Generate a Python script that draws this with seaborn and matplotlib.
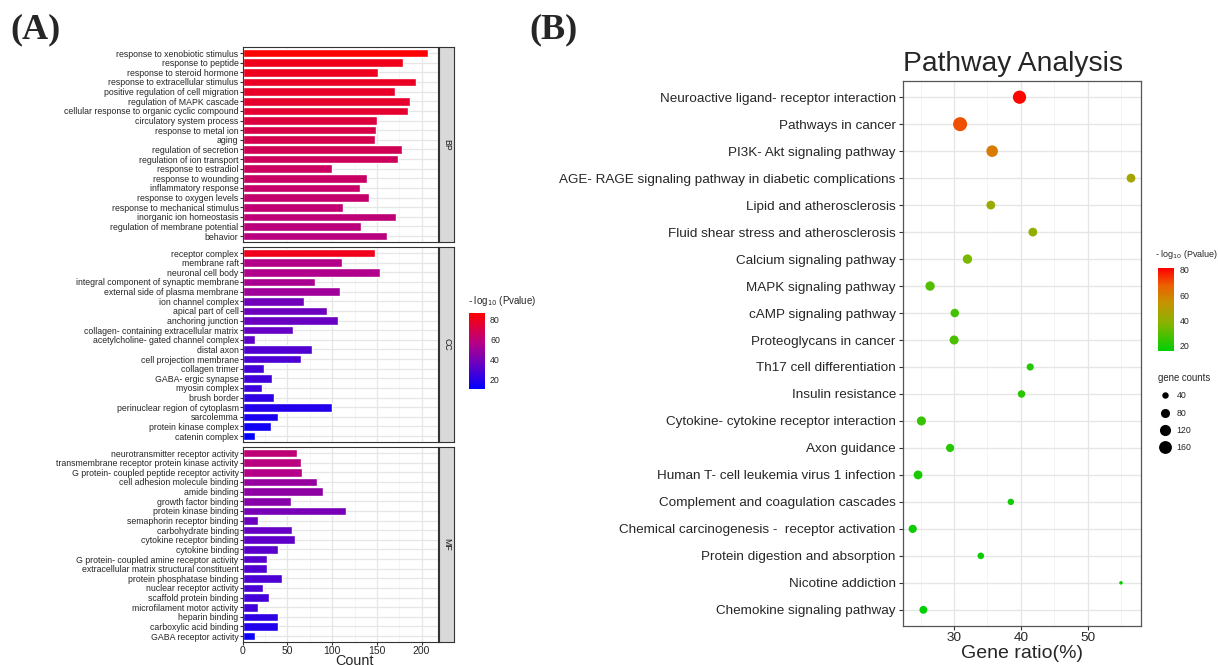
import numpy as np
import pandas as pd
import matplotlib
matplotlib.use('Agg')
import matplotlib.pyplot as plt
import seaborn as sns
from matplotlib.colors import LinearSegmentedColormap, Normalize
from matplotlib.cm import ScalarMappable
from matplotlib.lines import Line2D

sns.set_style('white')
plt.rcParams['font.family'] = ['Liberation Sans', 'DejaVu Sans']

# ---- (A) GO enrichment: terms, counts, -log10(P) ----
bp_terms = ['response to xenobiotic stimulus', 'response to peptide', 'response to steroid hormone',
            'response to extracellular stimulus', 'positive regulation of cell migration',
            'regulation of MAPK cascade', 'cellular response to organic cyclic compound',
            'circulatory system process', 'response to metal ion', 'aging', 'regulation of secretion',
            'regulation of ion transport', 'response to estradiol', 'response to wounding',
            'inflammatory response', 'response to oxygen levels', 'response to mechanical stimulus',
            'inorganic ion homeostasis', 'regulation of membrane potential', 'behavior']
bp_count = [207, 179, 151, 194, 170, 187, 185, 150, 149, 148,
            178, 174, 100, 139, 131, 141, 112, 171, 132, 161]
bp_logp = [86, 80, 79, 78, 77, 76, 75, 72, 70, 69, 67, 66, 65, 64, 63, 62, 61, 60, 59, 58]

cc_terms = ['receptor complex', 'membrane raft', 'neuronal cell body',
            'integral component of synaptic membrane', 'external side of plasma membrane',
            'ion channel complex', 'apical part of cell', 'anchoring junction',
            'collagen- containing extracellular matrix', 'acetylcholine- gated channel complex',
            'distal axon', 'cell projection membrane', 'collagen trimer', 'GABA- ergic synapse',
            'myosin complex', 'brush border', 'perinuclear region of cytoplasm', 'sarcolemma',
            'protein kinase complex', 'catenin complex']
cc_count = [148, 111, 154, 81, 109, 68, 94, 106, 56, 14,
            78, 65, 24, 33, 22, 35, 100, 40, 32, 14]
cc_logp = [80, 56, 55, 53, 50, 38, 37, 36, 35, 33, 30, 29, 27, 26, 25, 22, 19, 17, 15, 11]

mf_terms = ['neurotransmitter receptor activity', 'transmembrane receptor protein kinase activity',
            'G protein- coupled peptide receptor activity', 'cell adhesion molecule binding',
            'amide binding', 'growth factor binding', 'protein kinase binding',
            'semaphorin receptor binding', 'carbohydrate binding', 'cytokine receptor binding',
            'cytokine binding', 'G protein- coupled amine receptor activity',
            'extracellular matrix structural constituent', 'protein phosphatase binding',
            'nuclear receptor activity', 'scaffold protein binding', 'microfilament motor activity',
            'heparin binding', 'carboxylic acid binding', 'GABA receptor activity']
mf_count = [61, 65, 66, 83, 90, 54, 116, 17, 55, 58,
            40, 27, 27, 44, 23, 29, 17, 39, 40, 14]
mf_logp = [60, 58, 56, 48, 46, 44, 40, 37, 35, 33, 32, 31, 30, 29, 28, 27, 26, 22, 19, 14]

# ---- (B) KEGG pathways ----
pathways = ['Neuroactive ligand- receptor interaction', 'Pathways in cancer',
            'PI3K- Akt signaling pathway', 'AGE- RAGE signaling pathway in diabetic complications',
            'Lipid and atherosclerosis', 'Fluid shear stress and atherosclerosis',
            'Calcium signaling pathway', 'MAPK signaling pathway', 'cAMP signaling pathway',
            'Proteoglycans in cancer', 'Th17 cell differentiation', 'Insulin resistance',
            'Cytokine- cytokine receptor interaction', 'Axon guidance',
            'Human T- cell leukemia virus 1 infection', 'Complement and coagulation cascades',
            'Chemical carcinogenesis -  receptor activation', 'Protein digestion and absorption',
            'Nicotine addiction', 'Chemokine signaling pathway']
gene_ratio = [39.8, 30.9, 35.7, 56.5, 35.5, 41.8, 32.0, 26.4, 30.1, 30.0,
              41.4, 40.1, 25.1, 29.4, 24.6, 38.5, 23.8, 34.0, 55.0, 25.4]
path_logp = [80, 70, 60, 45, 42, 40, 36, 29, 27, 28, 22, 23, 25, 22, 20, 19, 18, 18, 17, 16]
gene_counts = [170, 190, 130, 75, 75, 75, 85, 85, 70, 80, 50, 55, 80, 65, 75, 40, 65, 42, 12, 60]
size_levels = [40, 80, 120, 160]

W, H = 1218, 665


def box(x0, y0, x1, y1):
    return [x0 / W, 1 - y1 / H, (x1 - x0) / W, (y1 - y0) / H]


fig = plt.figure(figsize=(W / 100, H / 100), dpi=100)

cmap_a = LinearSegmentedColormap.from_list(
    'bluered', [(0, '#0000FF'), (0.3, '#6000C8'), (0.6, '#B40088'), (1, '#FF0000')])
norm_a = Normalize(11, 86)

groups = [('BP', bp_terms, bp_count, bp_logp),
          ('CC', cc_terms, cc_count, cc_logp),
          ('MF', mf_terms, mf_count, mf_logp)]
tops = [47.3, 247.3, 447.3]

for i, (name, terms, counts, logp) in enumerate(groups):
    top = tops[i]
    bot = top + 194.6
    ax = fig.add_axes(box(242.7, top, 437.7, bot))
    df = pd.DataFrame({'term': terms, 'count': counts, 'logp': logp})
    pal = {t: cmap_a(norm_a(v)) for t, v in zip(terms, logp)}
    sns.barplot(data=df, x='count', y='term', hue='term', palette=pal, legend=False,
                ax=ax, width=0.9, saturation=1, orient='h')
    ax.set_xlim(0, 218)
    ax.set_ylim(len(terms) - 0.4, -0.6)
    ax.set_xticks([0, 50, 100, 150, 200])
    ax.set_xticks([25, 75, 125, 175], minor=True)
    ax.set_axisbelow(True)
    ax.grid(True, which='major', color='#E6E6E6', lw=0.9)
    ax.grid(True, which='minor', axis='x', color='#F2F2F2', lw=0.5)
    for s in ax.spines.values():
        s.set_color('#333333')
        s.set_linewidth(0.8)
    ax.set_ylabel('')
    ax.set_xlabel('')
    ax.tick_params(axis='y', labelsize=6.3, length=2, pad=1, left=True, color='#333333')
    if i < 2:
        ax.tick_params(axis='x', bottom=False, labelbottom=False)
    else:
        ax.tick_params(axis='x', labelsize=7.5, length=2, pad=1, bottom=True, color='#333333')
    # facet strip
    sax = fig.add_axes(box(439.3, top, 454, bot))
    sax.set_facecolor('#D9D9D9')
    sax.set_xticks([])
    sax.set_yticks([])
    for s in sax.spines.values():
        s.set_color('#333333')
        s.set_linewidth(0.8)
    sax.text(0.5, 0.5, name, rotation=-90, ha='center', va='center', fontsize=6.3,
             color='#1A1A1A', transform=sax.transAxes)

# x title sits at the very bottom edge, as in the reference
fig.text(355 / W, 1 - 661 / H, 'Count', fontsize=10.4, ha='center', va='center')

# colorbar (A)
cax_a = fig.add_axes(box(469.3, 313, 484.5, 389))
cb_a = fig.colorbar(ScalarMappable(norm=norm_a, cmap=cmap_a), cax=cax_a, ticks=[20, 40, 60, 80])
cb_a.outline.set_visible(False)
cax_a.tick_params(labelsize=6.3, length=3, direction='in', color='white', pad=4)
fig.text(467.5 / W, 1 - 301 / H, '- log$_{10}$ (Pvalue)', fontsize=7, va='center', ha='left')

# ---- (B) ----
cmap_b = LinearSegmentedColormap.from_list(
    'greenred', [(0, '#00CF00'), (0.35, '#8DB200'), (0.6, '#C99000'), (0.8, '#EC5E00'), (1, '#FF0000')])
axb = fig.add_axes(box(902.7, 81, 1141, 626))
df_b = pd.DataFrame({'pathway': pathways, 'ratio': gene_ratio, 'logp': path_logp,
                     'count': gene_counts})
sns.scatterplot(data=df_b, x='ratio', y='pathway', hue='logp', size='count',
                palette=cmap_b, hue_norm=(16, 81), sizes=(0, 107), size_norm=(0, 200),
                legend=False, linewidth=0, ax=axb)
axb.set_xlim(22.3, 58)
axb.set_ylim(len(pathways) - 0.4, -0.6)
axb.set_xticks([30, 40, 50])
axb.set_xticks([25, 35, 45, 55], minor=True)
axb.set_axisbelow(True)
axb.grid(True, which='major', color='#E6E6E6', lw=1.0)
axb.grid(True, which='minor', axis='x', color='#F2F2F2', lw=0.6)
for s in axb.spines.values():
    s.set_color('#555555')
    s.set_linewidth(0.9)
axb.set_ylabel('')
axb.set_xlabel('Gene ratio(%)', fontsize=14, labelpad=1)
axb.tick_params(axis='y', labelsize=9.7, length=3, pad=2, left=True, color='#333333')
axb.tick_params(axis='x', labelsize=9.7, length=3, pad=1, bottom=True, color='#333333')
axb.set_title('Pathway Analysis', loc='left', fontsize=20.3, pad=7)

# colorbar (B)
cax_b = fig.add_axes(box(1157.5, 268.3, 1174, 351))
cb_b = fig.colorbar(ScalarMappable(norm=Normalize(16, 81), cmap=cmap_b), cax=cax_b,
                    ticks=[20, 40, 60, 80])
cb_b.outline.set_visible(False)
cax_b.tick_params(labelsize=6.3, length=3, direction='in', color='white', pad=4)
fig.text(1155 / W, 1 - 254 / H, '- log$_{10}$ (Pvalue)', fontsize=6.5, va='center', ha='left')

# size legend (B)
fig.text(1158 / W, 1 - 378 / H, 'gene counts', fontsize=6.9, va='center', ha='left')
handles = [Line2D([], [], marker='o', ls='', color='black', markeredgewidth=0,
                  markersize=np.sqrt(107 * c / 200)) for c in size_levels]
fig.legend(handles, [str(c) for c in size_levels], loc='upper left',
           bbox_to_anchor=(1154 / W, 1 - 387 / H), frameon=False, fontsize=6.3,
           labelspacing=0.95, handletextpad=0.6, borderpad=0, handlelength=1.5)

# panel letters
fig.text(10 / W, 1 - 30 / H, '(A)', fontsize=26, fontweight='bold',
         family='Liberation Serif', va='center', ha='left')
fig.text(529 / W, 1 - 30 / H, '(B)', fontsize=26, fontweight='bold',
         family='Liberation Serif', va='center', ha='left')

fig.savefig('out.png', dpi=100)
